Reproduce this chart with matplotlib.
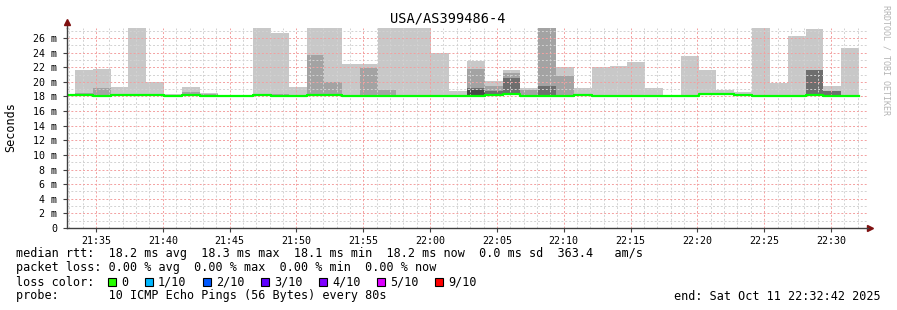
import matplotlib.pyplot as plt
from matplotlib.patches import Rectangle

plt.rcParams['font.family'] = ['DejaVu Sans Mono']

# time axis in minutes after 21:30, one smokeping step is 80 s
first_step = 2.096
step = 80 / 60.0

tick_minutes = [5, 10, 15, 20, 25, 30, 35, 40, 45, 50, 55, 60]
tick_labels = ["21:35", "21:40", "21:45", "21:50", "21:55", "22:00",
               "22:05", "22:10", "22:15", "22:20", "22:25", "22:30"]
y_ticks = [0, 2, 4, 6, 8, 10, 12, 14, 16, 18, 20, 22, 24, 26]
y_labels = ["0"] + ["%d m" % v for v in y_ticks[1:]]

# median rtt per step (ms)
median = [18.15, 18.15, 18.05, 18.15, 18.15, 18.15, 18.05, 18.2, 18.1, 18.0,
          18.0, 18.15, 18.1, 18.05, 18.15, 18.15, 18.05, 18.05, 18.1, 18.1,
          18.05, 18.05, 18.05, 18.1, 18.2, 18.35, 18.0, 18.1, 18.1, 18.15,
          18.05, 18.05, 18.05, 18.1, 18.1, 18.05, 18.3, 18.3, 18.15, 18.05,
          18.1, 18.1, 18.25, 18.0, 18.1]
# smoke: outer (max ping), then inner ping pairs
rtt_max = [18.2, 21.6, 21.8, 19.3, 27.6, 20.0, 18.3, 19.3, 18.5, 18.1,
           18.1, 27.6, 26.7, 19.3, 27.6, 27.6, 22.4, 22.4, 27.6, 27.6,
           27.6, 23.9, 18.8, 22.9, 20.1, 21.6, 19.2, 27.6, 22.0, 19.2,
           22.0, 22.2, 22.7, 19.2, 18.25, 23.5, 21.6, 18.9, 18.6, 27.6,
           19.9, 26.3, 27.2, 19.4, 24.6]
rtt_hi2 = [18.15, 18.5, 19.1, 18.3, 18.15, 18.15, 18.05, 18.6, 18.3, 18.0,
           18.0, 18.15, 18.3, 18.05, 23.7, 20.0, 18.05, 21.9, 18.9, 18.1,
           18.05, 18.05, 18.05, 21.8, 19.5, 21.2, 18.9, 27.6, 20.8, 18.15,
           18.05, 18.05, 18.05, 18.1, 18.1, 18.05, 18.3, 18.3, 18.15, 18.05,
           18.1, 18.1, 18.25, 18.0, 18.1]
rtt_hi3 = [18.15, 18.15, 18.05, 18.15, 18.15, 18.15, 18.05, 18.2, 18.1, 18.0,
           18.0, 18.15, 18.1, 18.05, 18.15, 18.15, 18.05, 18.05, 18.1, 18.1,
           18.05, 18.05, 18.05, 19.2, 18.7, 20.5, 18.0, 19.5, 18.1, 18.15,
           18.05, 18.05, 18.05, 18.1, 18.1, 18.05, 18.3, 18.3, 18.15, 18.05,
           18.1, 18.1, 21.6, 18.7, 18.1]
rtt_hi4 = [18.15, 18.15, 18.05, 18.15, 18.15, 18.15, 18.05, 18.2, 18.1, 18.0,
           18.0, 18.15, 18.1, 18.05, 18.15, 18.15, 18.05, 18.05, 18.1, 18.1,
           18.05, 18.05, 18.05, 18.9, 18.4, 18.35, 18.0, 18.1, 18.1, 18.15,
           18.05, 18.05, 18.05, 18.1, 18.1, 18.05, 18.3, 18.3, 18.15, 18.05,
           18.1, 18.1, 18.25, 18.0, 18.1]

loss_labels = ["0", "1/10", "2/10", "3/10", "4/10", "5/10", "9/10"]
loss_colors = ["#26ff00", "#00b8ff", "#0059ff", "#5e00ff", "#7e00ff", "#dd00ff", "#ff0000"]

W, H = 897, 310
fig = plt.figure(figsize=(W / 100, H / 100), dpi=100)
fig.patch.set_facecolor("white")
ax = fig.add_axes([67 / W, (H - 228) / H, (868 - 67) / W, 200 / H])

x = [first_step + i * step for i in range(len(median))]

# smoke layers, lightest first
for top, col in [(rtt_max, "#c8c8c8"), (rtt_hi2, "#a3a3a3"),
                 (rtt_hi3, "#6e6e6e"), (rtt_hi4, "#474747")]:
    ax.bar(x, [t - m for t, m in zip(top, median)], bottom=median, width=step,
           align="edge", color=col, linewidth=0, zorder=1)

# median line
ax.step(x + [x[-1] + step], median + [median[-1]], where="post",
        color="#00ff00", lw=1.6, zorder=3)

ax.set_xlim(2.83, 62.77)
ax.set_ylim(0, 27.37)

# grid
minor_col = "#d2d2d2"
major_col = "#f3a0a0"
for m in range(3, 63):
    if m % 5:
        ax.axvline(m, color=minor_col, lw=0.7, ls=(0, (2, 2)), zorder=2)
for v in range(1, 28, 2):
    ax.axhline(v, color=minor_col, lw=0.7, ls=(0, (2, 2)), zorder=2)
for m in tick_minutes:
    ax.axvline(m, color=major_col, lw=0.7, ls=(0, (2, 2)), zorder=2)
for v in y_ticks[1:]:
    ax.axhline(v, color=major_col, lw=0.7, ls=(0, (2, 2)), zorder=2)

ax.set_xticks(tick_minutes)
ax.set_xticklabels(tick_labels, fontsize=7.2)
ax.set_yticks(y_ticks)
ax.set_yticklabels(y_labels, fontsize=7.2)
ax.tick_params(length=3, width=0.8, color="#404040", pad=3)
ax.tick_params(axis="y", pad=4)

for s in ["top", "right"]:
    ax.spines[s].set_visible(False)
for s in ["left", "bottom"]:
    ax.spines[s].set_color("#404040")
    ax.spines[s].set_linewidth(1)
    ax.spines[s].set_zorder(4)

# axis extensions with arrows
ax.plot([0, 0], [1, 1.03], color="#404040", lw=1, transform=ax.transAxes, clip_on=False)
ax.plot([1, 1.0025], [0, 0], color="#404040", lw=1, transform=ax.transAxes, clip_on=False)
ax.plot([0], [1.03], marker="^", ms=5, color="#7f1010", transform=ax.transAxes, clip_on=False)
ax.plot([1.0025], [0], marker=">", ms=5, color="#7f1010", transform=ax.transAxes, clip_on=False)


def ftext(px, py, s, **kw):
    fig.text(px / W, 1 - py / H, s, va="center", **kw)


fig.text(11 / W, 1 - 127 / H, "Seconds", fontsize=8.5, rotation=90, ha="center", va="center")
ftext(448, 19, "USA/AS399486-4", fontsize=9.8, ha="center")
fig.text(886 / W, 1 - 60 / H, "RRDTOOL / TOBI OETIKER", fontsize=6, color="#b4b4b4",
         rotation=-90, ha="center", va="center")

ftext(16, 254, "median rtt:  18.2 ms avg  18.3 ms max  18.1 ms min  18.2 ms now  0.0 ms sd  363.4   am/s",
      fontsize=8.5)
ftext(16, 268, "packet loss: 0.00 % avg  0.00 % max  0.00 % min  0.00 % now", fontsize=8.5)
ftext(16, 282, "loss color:", fontsize=8.5)
ftext(16, 296, "probe:       10 ICMP Echo Pings (56 Bytes) every 80s", fontsize=8.5)
ftext(881, 296, "end: Sat Oct 11 22:32:42 2025", fontsize=8.5, ha="right")

box_x = [108, 145, 203, 261, 319, 377, 435]
for bx, lab, col in zip(box_x, loss_labels, loss_colors):
    fig.add_artist(Rectangle((bx / W, 1 - 286 / H), 8 / W, 8 / H, facecolor=col,
                             edgecolor="black", lw=0.8, transform=fig.transFigure))
    ftext(bx + 13, 282, lab, fontsize=8.5)

fig.savefig("out.png", dpi=100)
